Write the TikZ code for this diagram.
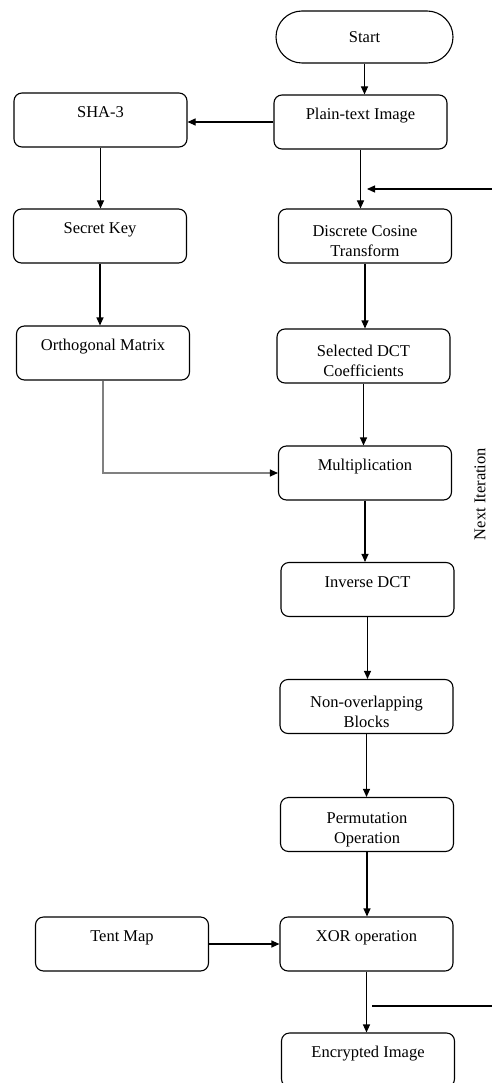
\documentclass[tikz,border=0pt]{standalone}
\usepackage{fontspec}
\setmainfont{Liberation Serif}
\usetikzlibrary{arrows.meta}
\newcommand{\topgap}{\rule{0pt}{21.5pt}}

\begin{document}
\begin{tikzpicture}[x=1pt,y=-1pt,
  box/.style={draw,line width=1.1pt,rounded corners=8pt,minimum width=173pt,minimum height=54pt,
    inner sep=0pt,align=center,font=\fontsize{16.5}{20}\selectfont},
  term/.style={draw,line width=1.1pt,rounded corners=26pt,minimum width=177pt,minimum height=52pt,
    inner sep=0pt,font=\fontsize{16.5}{20}\selectfont},
  arr/.style={line width=1.1pt,-{Triangle[length=8pt,width=7pt,black]}}]
  \path[use as bounding box,clip] (0,0) rectangle (492,1083); % picture frame

  % right column
  \node[term] (start) at (364.5,37) {Start};
  \node[box] (plain) at (360.5,122) {\topgap Plain-text Image\\\strut};
  \node[box] (dct) at (365,236) {\topgap Discrete Cosine\\Transform};
  \node[box] (sel) at (363.5,356) {\topgap Selected DCT\\Coefficients};
  \node[box] (mult) at (365,473) {\topgap Multiplication\\\strut};
  \node[box] (idct) at (367.5,589.5) {\topgap Inverse DCT\\\strut};
  \node[box] (blocks) at (366.5,706.5) {\topgap Non-overlapping\\Blocks};
  \node[box] (perm) at (367,824.5) {\topgap Permutation\\Operation};
  \node[box] (xor) at (366.5,944) {\topgap XOR operation\\\strut};
  \node[box] (enc) at (368,1060) {\topgap Encrypted Image\\\strut};

  % left column
  \node[box] (sha) at (100.5,120) {\topgap SHA-3\\\strut};
  \node[box] (key) at (100,236) {\topgap Secret Key\\\strut};
  \node[box] (ortho) at (103,353) {\topgap Orthogonal Matrix\\\strut};
  \node[box] (tent) at (122,944) {\topgap Tent Map\\\strut};

  \node[rotate=90,font=\fontsize{16.5}{20}\selectfont] (next) at (480,494) {Next Iteration};

  % connectors
  \draw[arr] (start.south) -- (start.south |- plain.north);
  \draw[arr] (plain.west) -- (plain.west -| sha.east);
  \draw[arr] (plain.south) -- (plain.south |- dct.north);
  \draw[arr] (dct.south) -- (dct.south |- sel.north);
  \draw[arr] (sel.south) -- (sel.south |- mult.north);
  \draw[arr] (mult.south) -- (mult.south |- idct.north);
  \draw[arr] (idct.south) -- (idct.south |- blocks.north);
  \draw[arr] (blocks.south) -- (blocks.south |- perm.north);
  \draw[arr] (perm.south) -- (perm.south |- xor.north);
  \draw[arr] (xor.south) -- (xor.south |- enc.north);
  \draw[arr] (sha.south) -- (sha.south |- key.north);
  \draw[arr] (key.south) -- (key.south |- ortho.north);
  \draw[arr,draw=gray] (ortho.south) -- (ortho.south |- mult.west) -- (mult.west);
  \draw[arr] (tent.east) -- (xor.west);

  % iteration loop ends
  \coordinate (itop) at (492,189);
  \coordinate (ibot) at (492,1006);
  \draw[arr,shorten >=2pt] (itop) -- (itop -| dct.north);
  \draw[line width=1.1pt] (ibot) -- ([xshift=5pt]ibot -| xor.south);
\end{tikzpicture}
\end{document}
